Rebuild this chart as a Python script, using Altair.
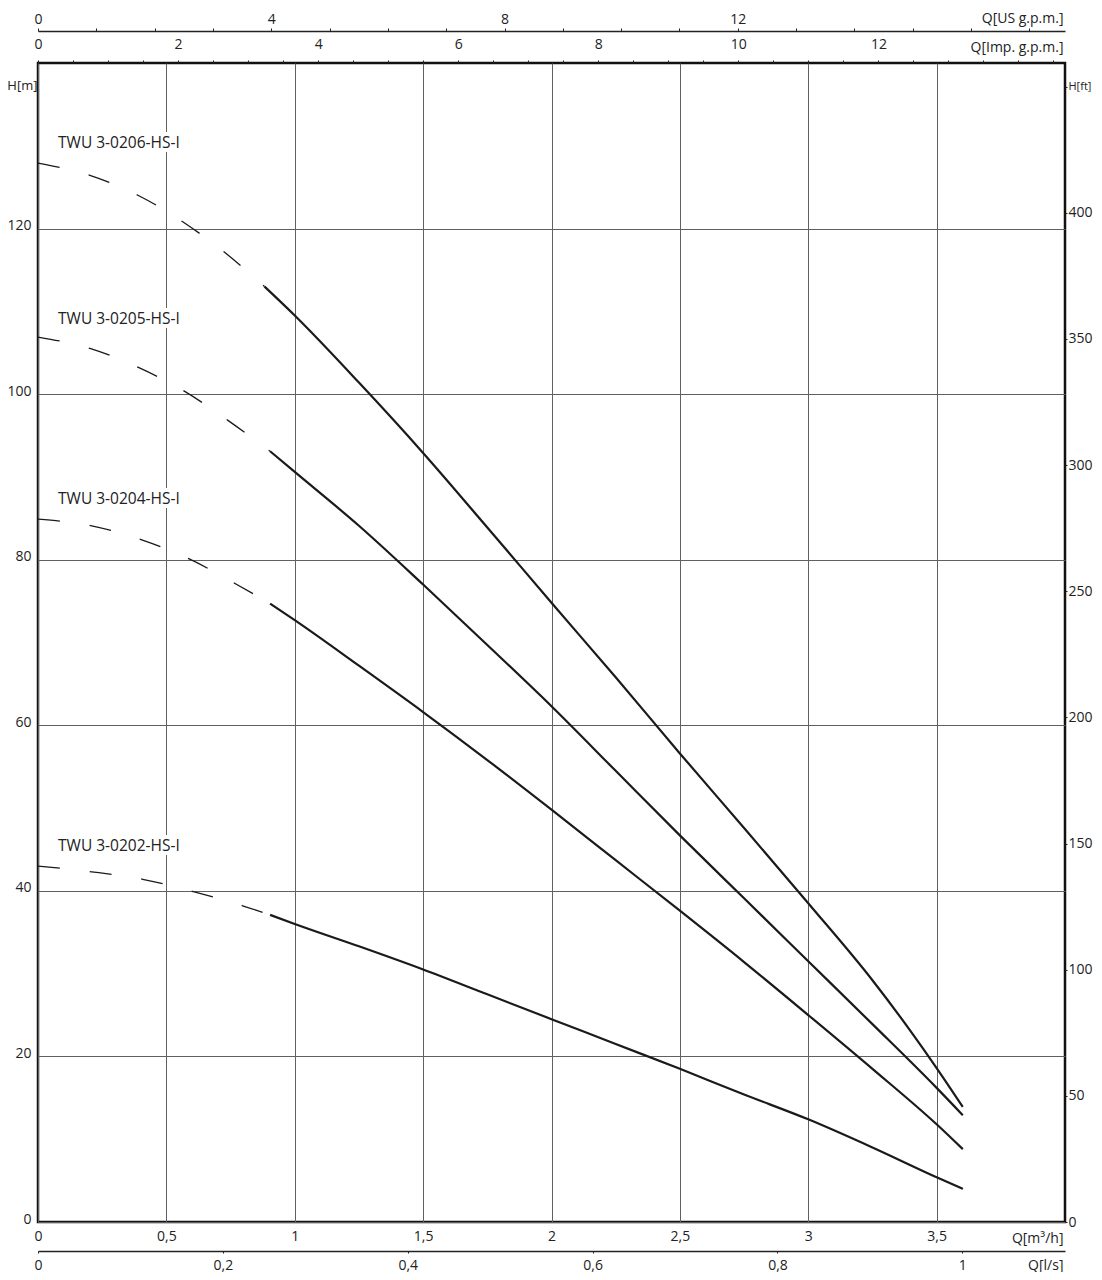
import altair as alt
import pandas as pd

# ---------------- data ----------------
models = ["TWU 3-0206-HS-I", "TWU 3-0205-HS-I", "TWU 3-0204-HS-I", "TWU 3-0202-HS-I"]

# dashed (extrapolated) part, Q in m3/h, H in m
dash_q_0206 = [0.0, 0.205, 0.391, 0.565, 0.728, 0.882]
dash_h_0206 = [127.9, 126.4, 124.0, 120.8, 117.1, 113.0]
dash_q_0205 = [0.0, 0.205, 0.393, 0.573, 0.741, 0.904]
dash_h_0205 = [106.9, 105.5, 103.2, 100.3, 96.8, 93.1]
dash_q_0204 = [0.0, 0.209, 0.404, 0.589, 0.769, 0.904]
dash_h_0204 = [84.9, 84.1, 82.4, 80.1, 77.1, 74.7]
dash_q_0202 = [0.0, 0.209, 0.408, 0.605, 0.797, 0.904]
dash_h_0202 = [43.0, 42.3, 41.4, 39.9, 38.2, 37.1]

# solid (operating) part
sol_q_0206 = [0.882, 1.0, 1.25, 1.5, 1.75, 2.0, 2.25, 2.5, 2.75, 3.0, 3.25, 3.4, 3.5, 3.602]
sol_h_0206 = [113.0, 109.5, 101.4, 92.9, 83.9, 74.8, 65.8, 56.6, 47.6, 38.5, 29.2, 23.0, 18.6, 13.9]
sol_q_0205 = [0.904, 1.0, 1.25, 1.5, 1.75, 2.0, 2.25, 2.5, 2.75, 3.0, 3.25, 3.5, 3.602]
sol_h_0205 = [93.1, 90.6, 84.1, 77.0, 69.7, 62.3, 54.5, 46.7, 39.1, 31.5, 23.9, 16.2, 12.9]
sol_q_0204 = [0.904, 1.0, 1.25, 1.5, 1.75, 2.0, 2.25, 2.5, 2.75, 3.0, 3.25, 3.5, 3.602]
sol_h_0204 = [74.7, 72.7, 67.2, 61.6, 55.8, 49.8, 43.7, 37.6, 31.4, 25.0, 18.5, 11.8, 8.8]
sol_q_0202 = [0.904, 1.0, 1.25, 1.5, 1.75, 2.0, 2.25, 2.5, 2.75, 3.0, 3.25, 3.5, 3.602]
sol_h_0202 = [37.1, 36.0, 33.3, 30.5, 27.5, 24.5, 21.5, 18.5, 15.4, 12.4, 9.0, 5.4, 4.0]

label_q = [0.078, 0.078, 0.078, 0.078]
label_h = [130.3, 109.1, 87.3, 45.4]

x_ticks = [0, 0.5, 1, 1.5, 2, 2.5, 3, 3.5]
y_ticks = [0, 20, 40, 60, 80, 100, 120]
ls_ticks = [0, 0.2, 0.4, 0.6, 0.8, 1.0]
us_ticks = list(range(0, 18))
us_labels = [0, 4, 8, 12]
imp_ticks = [i * 0.5 for i in range(0, 30)]
imp_labels = [0, 2, 4, 6, 8, 10, 12]
ft_ticks = [0, 50, 100, 150, 200, 250, 300, 350, 400, 450]

# unit conversions
M3H_PER_LS = 3.6
M3H_PER_USGPM = 0.2271247
M3H_PER_IMPGPM = 0.2727654
M_PER_FT = 0.3048
Q_MAX = 4.0
H_MAX = 140.0

# ---------------- tables ----------------
dash_sets = [(dash_q_0206, dash_h_0206), (dash_q_0205, dash_h_0205),
             (dash_q_0204, dash_h_0204), (dash_q_0202, dash_h_0202)]
sol_sets = [(sol_q_0206, sol_h_0206), (sol_q_0205, sol_h_0205),
            (sol_q_0204, sol_h_0204), (sol_q_0202, sol_h_0202)]

rows = []
for m, (qs, hs) in zip(models, dash_sets):
    for i, (q, h) in enumerate(zip(qs, hs)):
        rows.append({"model": m, "i": i, "q": q, "h": h})
dash_df = pd.DataFrame(rows)
rows = []
for m, (qs, hs) in zip(models, sol_sets):
    for i, (q, h) in enumerate(zip(qs, hs)):
        rows.append({"model": m, "i": i, "q": q, "h": h})
sol_df = pd.DataFrame(rows)
lab_df = pd.DataFrame({"model": models, "q": label_q, "h": label_h})

aux_df = sol_df.copy()
aux_df["qls"] = aux_df["q"] / M3H_PER_LS
aux_df["qus"] = aux_df["q"] / M3H_PER_USGPM
aux_df["qimp"] = aux_df["q"] / M3H_PER_IMPGPM
aux_df["hft"] = aux_df["h"] / M_PER_FT

FONT = "Open Sans"
TXT = "#222222"
GRID = "#606060"
comma = "replace(format(datum.value, '~g'), '.', ',')"


def only(vals):
    return "indexof(" + str(list(vals)) + ", datum.value) >= 0 ? format(datum.value, 'd') : ''"


xscale = alt.Scale(domain=[0, Q_MAX], nice=False, zero=False)
yscale = alt.Scale(domain=[0, H_MAX], nice=False, zero=False)

x_axis = alt.Axis(values=x_ticks, orient="bottom", grid=True, gridColor=GRID, gridWidth=1,
                  domain=False, ticks=False, labelPadding=7, labelExpr=comma,
                  labelFlush=False, labelOverlap=False,
                  title="Q[m³/h]", titleX=1025, titleY=16, titleAlign="right",
                  titleBaseline="middle", titleAngle=0, titleAnchor="end")
y_axis = alt.Axis(values=y_ticks, orient="left", grid=True, gridColor=GRID, gridWidth=1,
                  domain=False, ticks=False, labelPadding=7, labelFlush=False, labelOverlap=False,
                  labelBaseline="bottom", labelOffset=4,
                  title="H[m]", titleX=-1, titleY=22, titleAlign="right", titleFontSize=13,
                  titleBaseline="middle", titleAngle=0)

X = alt.X("q:Q", scale=xscale, axis=x_axis)
Y = alt.Y("h:Q", scale=yscale, axis=y_axis)

dashed = alt.Chart(dash_df).mark_line(
    strokeDash=[22, 30], strokeWidth=1.3, color="#1a1a1a", interpolate="monotone"
).encode(x=X, y=Y, detail="model:N", order="i:Q")

solid = alt.Chart(sol_df).mark_line(
    strokeWidth=2.2, color="#1a1a1a", interpolate="monotone"
).encode(x=X, y=Y, detail="model:N", order="i:Q")

halo = alt.Chart(lab_df).mark_text(
    align="left", baseline="middle", font=FONT, fontSize=15.5, stroke="white",
    strokeWidth=8, color="white"
).encode(x=X, y=Y, text="model:N")

labels = alt.Chart(lab_df).mark_text(
    align="left", baseline="middle", font=FONT, fontSize=15.5, color=TXT
).encode(x=X, y=Y, text="model:N")

main = alt.layer(dashed, solid, halo, labels)

hidden_y = alt.Y("h:Q", scale=yscale, axis=None)
hidden_x = alt.X("q:Q", scale=xscale, axis=None)

ls_layer = alt.Chart(aux_df).mark_point(opacity=0).encode(
    x=alt.X("qls:Q", scale=alt.Scale(domain=[0, Q_MAX / M3H_PER_LS], nice=False, zero=False),
            axis=alt.Axis(orient="bottom", offset=29, values=ls_ticks, labelExpr=comma,
                          domain=True, domainColor="#222", domainWidth=1.5,
                          ticks=True, tickSize=2, tickColor="#222", grid=False,
                          labelPadding=5, labelFlush=False, labelOverlap=False,
                          title="Q[l/s]", titleX=1025, titleY=18, titleAlign="right",
                          titleBaseline="alphabetic", titleAngle=0)),
    y=hidden_y)

us_layer = alt.Chart(aux_df).mark_point(opacity=0).encode(
    x=alt.X("qus:Q", scale=alt.Scale(domain=[0, Q_MAX / M3H_PER_USGPM], nice=False, zero=False),
            axis=alt.Axis(orient="top", offset=32, values=us_ticks,
                          labelExpr=only(us_labels),
                          domain=True, domainColor="#222", domainWidth=1.5,
                          ticks=True, tickSize=3, tickColor="#222", grid=False,
                          labelPadding=2, labelFlush=False, labelOverlap=False,
                          title="Q[US g.p.m.]", titleX=1025, titleY=-13, titleAlign="right",
                          titleBaseline="middle", titleAngle=0)),
    y=hidden_y)

imp_layer = alt.Chart(aux_df).mark_point(opacity=0).encode(
    x=alt.X("qimp:Q", scale=alt.Scale(domain=[0, Q_MAX / M3H_PER_IMPGPM], nice=False, zero=False),
            axis=alt.Axis(orient="top", offset=0, values=imp_ticks,
                          labelExpr=only(imp_labels),
                          domain=False, ticks=True, tickSize=3, tickColor="#222", grid=False,
                          labelPadding=9, labelFlush=False, labelOverlap=False,
                          title="Q[Imp. g.p.m.]", titleX=1025, titleY=-16, titleAlign="right",
                          titleBaseline="middle", titleAngle=0)),
    y=hidden_y)

ft_layer = alt.Chart(aux_df).mark_point(opacity=0).encode(
    x=hidden_x,
    y=alt.Y("hft:Q", scale=alt.Scale(domain=[0, H_MAX / M_PER_FT], nice=False, zero=False),
            axis=alt.Axis(orient="right", values=ft_ticks,
                          labelExpr="datum.value === 450 ? 'H[ft]' : datum.value",
                          labelFontSize={"condition": {"test": "datum.value === 450", "value": 11},
                                         "value": 14},
                          domain=False, ticks=True, tickSize=2, tickColor="#222", grid=False,
                          labelPadding=1, labelFlush=False, labelOverlap=False, title=None)))

chart = alt.layer(main, ls_layer, us_layer, imp_layer, ft_layer).resolve_scale(
    x="independent", y="independent"
).properties(
    width=1027, height=1159,
    autosize=alt.AutoSizeParams(type="none"),
    padding={"left": 30, "top": 55, "right": 29, "bottom": 50},
    background="white",
).configure_view(
    stroke="#111111", strokeWidth=2.5
).configure_axis(
    labelFont=FONT, labelFontSize=14, labelColor=TXT,
    titleFont=FONT, titleFontSize=14, titleColor=TXT, titleFontWeight="normal",
)

chart.save("out.html", embed_options={"renderer": "svg", "actions": False})
